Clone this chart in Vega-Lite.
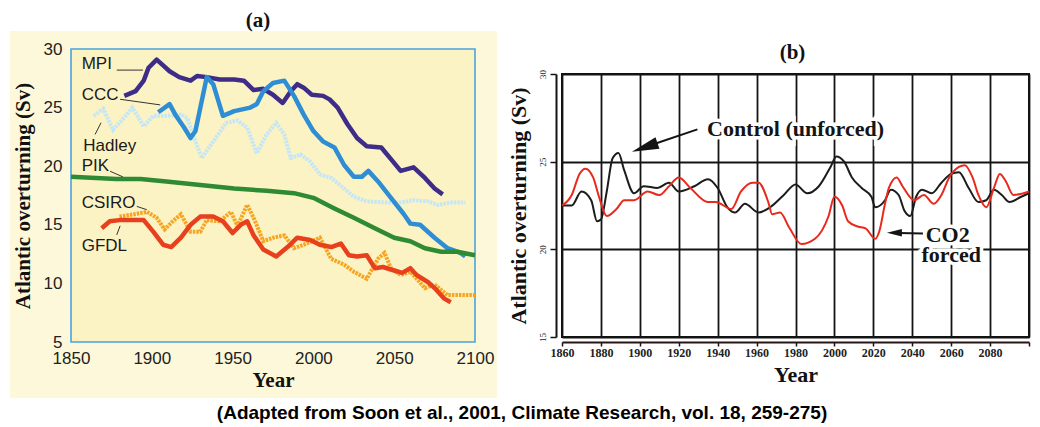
{
  "$schema": "https://vega.github.io/schema/vega-lite/v6.json",
  "background": "white",
  "padding": {"left": 10, "top": 9, "right": 0, "bottom": 0},
  "spacing": 8,
  "resolve": {"scale": {"color": "independent"}},
  "title": {
    "text": "(Adapted from Soon et al., 2001, Climate Research, vol. 18, 259-275)",
    "orient": "bottom",
    "anchor": "middle",
    "font": "Liberation Sans",
    "fontSize": 19,
    "fontWeight": "bold",
    "color": "#000000",
    "offset": 6
  },
  "config": {"view": {"stroke": null}},
  "datasets": {
    "modelsA": [
      {"model": "MPI", "year": 1883, "sv": 26.0}, {"model": "MPI", "year": 1890, "sv": 26.4}, {"model": "MPI", "year": 1895, "sv": 27.3}, {"model": "MPI", "year": 1898, "sv": 28.4}, {"model": "MPI", "year": 1903, "sv": 29.1}, {"model": "MPI", "year": 1907, "sv": 28.6}, {"model": "MPI", "year": 1911, "sv": 28.1}, {"model": "MPI", "year": 1917, "sv": 27.6}, {"model": "MPI", "year": 1924, "sv": 27.3}, {"model": "MPI", "year": 1928, "sv": 27.7}, {"model": "MPI", "year": 1934, "sv": 27.6}, {"model": "MPI", "year": 1942, "sv": 27.4}, {"model": "MPI", "year": 1951, "sv": 27.4}, {"model": "MPI", "year": 1957, "sv": 27.3}, {"model": "MPI", "year": 1963, "sv": 26.5}, {"model": "MPI", "year": 1969, "sv": 26.6}, {"model": "MPI", "year": 1975, "sv": 26.1}, {"model": "MPI", "year": 1981, "sv": 25.4}, {"model": "MPI", "year": 1986, "sv": 26.4}, {"model": "MPI", "year": 1990, "sv": 27.0}, {"model": "MPI", "year": 1994, "sv": 26.7}, {"model": "MPI", "year": 1999, "sv": 26.1}, {"model": "MPI", "year": 2006, "sv": 26.0}, {"model": "MPI", "year": 2010, "sv": 25.7}, {"model": "MPI", "year": 2015, "sv": 25.0}, {"model": "MPI", "year": 2021, "sv": 23.6}, {"model": "MPI", "year": 2027, "sv": 22.4}, {"model": "MPI", "year": 2033, "sv": 21.7}, {"model": "MPI", "year": 2042, "sv": 21.6}, {"model": "MPI", "year": 2048, "sv": 20.6}, {"model": "MPI", "year": 2054, "sv": 19.6}, {"model": "MPI", "year": 2062, "sv": 19.9}, {"model": "MPI", "year": 2069, "sv": 19.0}, {"model": "MPI", "year": 2075, "sv": 18.1}, {"model": "MPI", "year": 2080, "sv": 17.6},
      {"model": "CCC", "year": 1904, "sv": 24.6}, {"model": "CCC", "year": 1911, "sv": 25.3}, {"model": "CCC", "year": 1915, "sv": 24.3}, {"model": "CCC", "year": 1920, "sv": 23.3}, {"model": "CCC", "year": 1924, "sv": 22.4}, {"model": "CCC", "year": 1927, "sv": 23.0}, {"model": "CCC", "year": 1934, "sv": 27.6}, {"model": "CCC", "year": 1938, "sv": 27.0}, {"model": "CCC", "year": 1944, "sv": 24.3}, {"model": "CCC", "year": 1951, "sv": 24.7}, {"model": "CCC", "year": 1961, "sv": 25.0}, {"model": "CCC", "year": 1965, "sv": 25.3}, {"model": "CCC", "year": 1969, "sv": 26.4}, {"model": "CCC", "year": 1975, "sv": 27.1}, {"model": "CCC", "year": 1982, "sv": 27.3}, {"model": "CCC", "year": 1988, "sv": 26.0}, {"model": "CCC", "year": 1994, "sv": 24.4}, {"model": "CCC", "year": 2000, "sv": 23.0}, {"model": "CCC", "year": 2006, "sv": 22.1}, {"model": "CCC", "year": 2013, "sv": 21.6}, {"model": "CCC", "year": 2019, "sv": 20.1}, {"model": "CCC", "year": 2025, "sv": 19.1}, {"model": "CCC", "year": 2030, "sv": 19.1}, {"model": "CCC", "year": 2034, "sv": 19.6}, {"model": "CCC", "year": 2040, "sv": 18.7}, {"model": "CCC", "year": 2048, "sv": 17.3}, {"model": "CCC", "year": 2056, "sv": 15.9}, {"model": "CCC", "year": 2060, "sv": 15.1}, {"model": "CCC", "year": 2066, "sv": 15.0}, {"model": "CCC", "year": 2075, "sv": 13.9}, {"model": "CCC", "year": 2083, "sv": 13.0}, {"model": "CCC", "year": 2091, "sv": 12.6}, {"model": "CCC", "year": 2094, "sv": 12.3},
      {"model": "Hadley", "year": 1864, "sv": 24.3}, {"model": "Hadley", "year": 1870, "sv": 24.9}, {"model": "Hadley", "year": 1876, "sv": 23.1}, {"model": "Hadley", "year": 1882, "sv": 24.0}, {"model": "Hadley", "year": 1888, "sv": 25.0}, {"model": "Hadley", "year": 1895, "sv": 23.4}, {"model": "Hadley", "year": 1901, "sv": 24.3}, {"model": "Hadley", "year": 1905, "sv": 24.3}, {"model": "Hadley", "year": 1911, "sv": 24.3}, {"model": "Hadley", "year": 1918, "sv": 24.4}, {"model": "Hadley", "year": 1922, "sv": 24.1}, {"model": "Hadley", "year": 1927, "sv": 22.1}, {"model": "Hadley", "year": 1931, "sv": 20.7}, {"model": "Hadley", "year": 1938, "sv": 22.1}, {"model": "Hadley", "year": 1946, "sv": 23.7}, {"model": "Hadley", "year": 1953, "sv": 23.9}, {"model": "Hadley", "year": 1959, "sv": 23.3}, {"model": "Hadley", "year": 1965, "sv": 21.1}, {"model": "Hadley", "year": 1971, "sv": 22.7}, {"model": "Hadley", "year": 1977, "sv": 23.7}, {"model": "Hadley", "year": 1982, "sv": 22.7}, {"model": "Hadley", "year": 1986, "sv": 20.7}, {"model": "Hadley", "year": 1992, "sv": 21.0}, {"model": "Hadley", "year": 1998, "sv": 20.4}, {"model": "Hadley", "year": 2004, "sv": 19.3}, {"model": "Hadley", "year": 2011, "sv": 19.0}, {"model": "Hadley", "year": 2019, "sv": 18.1}, {"model": "Hadley", "year": 2025, "sv": 17.4}, {"model": "Hadley", "year": 2033, "sv": 17.0}, {"model": "Hadley", "year": 2044, "sv": 16.9}, {"model": "Hadley", "year": 2054, "sv": 16.9}, {"model": "Hadley", "year": 2062, "sv": 17.1}, {"model": "Hadley", "year": 2071, "sv": 17.0}, {"model": "Hadley", "year": 2077, "sv": 16.7}, {"model": "Hadley", "year": 2085, "sv": 16.9}, {"model": "Hadley", "year": 2094, "sv": 16.9},
      {"model": "PIK", "year": 1850, "sv": 19.1}, {"model": "PIK", "year": 1878, "sv": 18.9}, {"model": "PIK", "year": 1893, "sv": 18.9}, {"model": "PIK", "year": 1909, "sv": 18.7}, {"model": "PIK", "year": 1930, "sv": 18.4}, {"model": "PIK", "year": 1951, "sv": 18.1}, {"model": "PIK", "year": 1971, "sv": 17.9}, {"model": "PIK", "year": 1988, "sv": 17.7}, {"model": "PIK", "year": 2000, "sv": 17.3}, {"model": "PIK", "year": 2013, "sv": 16.4}, {"model": "PIK", "year": 2025, "sv": 15.6}, {"model": "PIK", "year": 2038, "sv": 14.7}, {"model": "PIK", "year": 2050, "sv": 13.9}, {"model": "PIK", "year": 2060, "sv": 13.6}, {"model": "PIK", "year": 2069, "sv": 13.0}, {"model": "PIK", "year": 2079, "sv": 12.7}, {"model": "PIK", "year": 2089, "sv": 12.7}, {"model": "PIK", "year": 2100, "sv": 12.4},
      {"model": "CSIRO", "year": 1880, "sv": 15.7}, {"model": "CSIRO", "year": 1889, "sv": 15.9}, {"model": "CSIRO", "year": 1897, "sv": 16.1}, {"model": "CSIRO", "year": 1903, "sv": 15.6}, {"model": "CSIRO", "year": 1908, "sv": 14.6}, {"model": "CSIRO", "year": 1913, "sv": 15.3}, {"model": "CSIRO", "year": 1918, "sv": 15.9}, {"model": "CSIRO", "year": 1924, "sv": 14.4}, {"model": "CSIRO", "year": 1930, "sv": 14.4}, {"model": "CSIRO", "year": 1934, "sv": 15.4}, {"model": "CSIRO", "year": 1942, "sv": 15.3}, {"model": "CSIRO", "year": 1949, "sv": 16.1}, {"model": "CSIRO", "year": 1953, "sv": 14.9}, {"model": "CSIRO", "year": 1959, "sv": 16.7}, {"model": "CSIRO", "year": 1963, "sv": 15.6}, {"model": "CSIRO", "year": 1969, "sv": 13.6}, {"model": "CSIRO", "year": 1975, "sv": 13.9}, {"model": "CSIRO", "year": 1982, "sv": 14.1}, {"model": "CSIRO", "year": 1988, "sv": 13.0}, {"model": "CSIRO", "year": 1994, "sv": 13.3}, {"model": "CSIRO", "year": 2004, "sv": 13.9}, {"model": "CSIRO", "year": 2011, "sv": 12.1}, {"model": "CSIRO", "year": 2019, "sv": 11.6}, {"model": "CSIRO", "year": 2025, "sv": 11.0}, {"model": "CSIRO", "year": 2033, "sv": 10.4}, {"model": "CSIRO", "year": 2040, "sv": 12.1}, {"model": "CSIRO", "year": 2044, "sv": 12.6}, {"model": "CSIRO", "year": 2048, "sv": 11.3}, {"model": "CSIRO", "year": 2054, "sv": 10.7}, {"model": "CSIRO", "year": 2060, "sv": 11.0}, {"model": "CSIRO", "year": 2069, "sv": 9.6}, {"model": "CSIRO", "year": 2075, "sv": 9.9}, {"model": "CSIRO", "year": 2083, "sv": 9.0}, {"model": "CSIRO", "year": 2091, "sv": 9.0}, {"model": "CSIRO", "year": 2100, "sv": 9.0},
      {"model": "GFDL", "year": 1869, "sv": 14.7}, {"model": "GFDL", "year": 1874, "sv": 15.3}, {"model": "GFDL", "year": 1880, "sv": 15.4}, {"model": "GFDL", "year": 1889, "sv": 15.4}, {"model": "GFDL", "year": 1895, "sv": 15.4}, {"model": "GFDL", "year": 1901, "sv": 14.4}, {"model": "GFDL", "year": 1907, "sv": 13.3}, {"model": "GFDL", "year": 1912, "sv": 13.1}, {"model": "GFDL", "year": 1918, "sv": 13.9}, {"model": "GFDL", "year": 1924, "sv": 15.0}, {"model": "GFDL", "year": 1930, "sv": 15.7}, {"model": "GFDL", "year": 1938, "sv": 15.7}, {"model": "GFDL", "year": 1944, "sv": 15.3}, {"model": "GFDL", "year": 1950, "sv": 14.3}, {"model": "GFDL", "year": 1955, "sv": 15.0}, {"model": "GFDL", "year": 1959, "sv": 15.3}, {"model": "GFDL", "year": 1963, "sv": 14.1}, {"model": "GFDL", "year": 1969, "sv": 12.9}, {"model": "GFDL", "year": 1977, "sv": 12.3}, {"model": "GFDL", "year": 1984, "sv": 13.1}, {"model": "GFDL", "year": 1990, "sv": 13.9}, {"model": "GFDL", "year": 1998, "sv": 13.7}, {"model": "GFDL", "year": 2004, "sv": 13.3}, {"model": "GFDL", "year": 2011, "sv": 13.1}, {"model": "GFDL", "year": 2017, "sv": 13.4}, {"model": "GFDL", "year": 2022, "sv": 12.4}, {"model": "GFDL", "year": 2027, "sv": 12.3}, {"model": "GFDL", "year": 2033, "sv": 12.4}, {"model": "GFDL", "year": 2038, "sv": 11.3}, {"model": "GFDL", "year": 2043, "sv": 11.4}, {"model": "GFDL", "year": 2050, "sv": 11.1}, {"model": "GFDL", "year": 2055, "sv": 10.9}, {"model": "GFDL", "year": 2060, "sv": 11.3}, {"model": "GFDL", "year": 2064, "sv": 10.7}, {"model": "GFDL", "year": 2071, "sv": 10.1}, {"model": "GFDL", "year": 2075, "sv": 9.6}, {"model": "GFDL", "year": 2081, "sv": 8.7}, {"model": "GFDL", "year": 2085, "sv": 8.4}
    ],
    "labelsA": [
      {"label": "MPI", "year": 1856.6, "sv": 28.7},
      {"label": "CCC", "year": 1856.6, "sv": 26.06},
      {"label": "Hadley", "year": 1857.6, "sv": 21.71},
      {"label": "PIK", "year": 1856.6, "sv": 20.0},
      {"label": "CSIRO", "year": 1856.6, "sv": 16.86},
      {"label": "GFDL", "year": 1856.6, "sv": 13.2}
    ],
    "leadersA": [
      {"label": "MPI", "year": 1878.3, "sv": 28.2, "year2": 1894.5, "sv2": 28.2},
      {"label": "CCC", "year": 1880.4, "sv": 25.71, "year2": 1905.2, "sv2": 25.23},
      {"label": "Hadley", "year": 1864.9, "sv": 22.71, "year2": 1868.6, "sv2": 23.71},
      {"label": "PIK", "year": 1874.2, "sv": 19.57, "year2": 1882.1, "sv2": 19.09},
      {"label": "CSIRO", "year": 1890.7, "sv": 16.57, "year2": 1896.9, "sv2": 16.29},
      {"label": "GFDL", "year": 1878.3, "sv": 14.14, "year2": 1880.4, "sv2": 14.91}
    ],
    "runsB": [
      {"run": "Control", "year": 1860, "sv": 22.5}, {"run": "Control", "year": 1865, "sv": 22.5}, {"run": "Control", "year": 1870, "sv": 23.3}, {"run": "Control", "year": 1875, "sv": 22.8}, {"run": "Control", "year": 1878, "sv": 21.6}, {"run": "Control", "year": 1880, "sv": 21.7}, {"run": "Control", "year": 1883, "sv": 23.3}, {"run": "Control", "year": 1886, "sv": 25.2}, {"run": "Control", "year": 1889, "sv": 25.5}, {"run": "Control", "year": 1892, "sv": 24.5}, {"run": "Control", "year": 1897, "sv": 23.2}, {"run": "Control", "year": 1902, "sv": 23.6}, {"run": "Control", "year": 1909, "sv": 23.5}, {"run": "Control", "year": 1915, "sv": 23.8}, {"run": "Control", "year": 1920, "sv": 23.3}, {"run": "Control", "year": 1928, "sv": 23.6}, {"run": "Control", "year": 1935, "sv": 24.0}, {"run": "Control", "year": 1940, "sv": 23.5}, {"run": "Control", "year": 1945, "sv": 22.4}, {"run": "Control", "year": 1949, "sv": 22.1}, {"run": "Control", "year": 1954, "sv": 22.6}, {"run": "Control", "year": 1961, "sv": 22.1}, {"run": "Control", "year": 1967, "sv": 22.4}, {"run": "Control", "year": 1974, "sv": 23.1}, {"run": "Control", "year": 1980, "sv": 23.7}, {"run": "Control", "year": 1986, "sv": 23.2}, {"run": "Control", "year": 1992, "sv": 23.6}, {"run": "Control", "year": 1998, "sv": 24.7}, {"run": "Control", "year": 2001, "sv": 25.3}, {"run": "Control", "year": 2005, "sv": 25.0}, {"run": "Control", "year": 2009, "sv": 24.1}, {"run": "Control", "year": 2014, "sv": 23.5}, {"run": "Control", "year": 2019, "sv": 23.0}, {"run": "Control", "year": 2021, "sv": 22.4}, {"run": "Control", "year": 2026, "sv": 22.8}, {"run": "Control", "year": 2029, "sv": 23.4}, {"run": "Control", "year": 2033, "sv": 23.1}, {"run": "Control", "year": 2036, "sv": 22.2}, {"run": "Control", "year": 2039, "sv": 21.9}, {"run": "Control", "year": 2042, "sv": 23.0}, {"run": "Control", "year": 2045, "sv": 23.4}, {"run": "Control", "year": 2050, "sv": 23.2}, {"run": "Control", "year": 2055, "sv": 23.8}, {"run": "Control", "year": 2060, "sv": 24.3}, {"run": "Control", "year": 2064, "sv": 24.4}, {"run": "Control", "year": 2069, "sv": 23.5}, {"run": "Control", "year": 2074, "sv": 22.7}, {"run": "Control", "year": 2078, "sv": 22.8}, {"run": "Control", "year": 2082, "sv": 23.4}, {"run": "Control", "year": 2086, "sv": 23.1}, {"run": "Control", "year": 2090, "sv": 22.7}, {"run": "Control", "year": 2096, "sv": 23.0}, {"run": "Control", "year": 2100, "sv": 23.2},
      {"run": "CO2", "year": 1860, "sv": 22.5}, {"run": "CO2", "year": 1865, "sv": 23.1}, {"run": "CO2", "year": 1869, "sv": 24.3}, {"run": "CO2", "year": 1872, "sv": 24.6}, {"run": "CO2", "year": 1876, "sv": 24.1}, {"run": "CO2", "year": 1879, "sv": 23.0}, {"run": "CO2", "year": 1883, "sv": 21.9}, {"run": "CO2", "year": 1888, "sv": 22.3}, {"run": "CO2", "year": 1892, "sv": 22.8}, {"run": "CO2", "year": 1897, "sv": 22.8}, {"run": "CO2", "year": 1904, "sv": 23.3}, {"run": "CO2", "year": 1910, "sv": 23.1}, {"run": "CO2", "year": 1915, "sv": 23.6}, {"run": "CO2", "year": 1920, "sv": 24.1}, {"run": "CO2", "year": 1926, "sv": 23.5}, {"run": "CO2", "year": 1935, "sv": 22.7}, {"run": "CO2", "year": 1939, "sv": 22.7}, {"run": "CO2", "year": 1947, "sv": 22.3}, {"run": "CO2", "year": 1952, "sv": 23.3}, {"run": "CO2", "year": 1958, "sv": 23.8}, {"run": "CO2", "year": 1961, "sv": 23.8}, {"run": "CO2", "year": 1966, "sv": 22.7}, {"run": "CO2", "year": 1968, "sv": 22.0}, {"run": "CO2", "year": 1972, "sv": 22.1}, {"run": "CO2", "year": 1977, "sv": 21.2}, {"run": "CO2", "year": 1983, "sv": 20.3}, {"run": "CO2", "year": 1990, "sv": 20.6}, {"run": "CO2", "year": 1997, "sv": 21.9}, {"run": "CO2", "year": 2000, "sv": 23.0}, {"run": "CO2", "year": 2004, "sv": 22.5}, {"run": "CO2", "year": 2007, "sv": 21.6}, {"run": "CO2", "year": 2012, "sv": 21.3}, {"run": "CO2", "year": 2016, "sv": 21.2}, {"run": "CO2", "year": 2021, "sv": 20.6}, {"run": "CO2", "year": 2023, "sv": 21.0}, {"run": "CO2", "year": 2026, "sv": 22.6}, {"run": "CO2", "year": 2028, "sv": 23.5}, {"run": "CO2", "year": 2032, "sv": 24.1}, {"run": "CO2", "year": 2035, "sv": 23.6}, {"run": "CO2", "year": 2041, "sv": 22.8}, {"run": "CO2", "year": 2046, "sv": 23.1}, {"run": "CO2", "year": 2051, "sv": 22.6}, {"run": "CO2", "year": 2055, "sv": 23.1}, {"run": "CO2", "year": 2059, "sv": 24.1}, {"run": "CO2", "year": 2064, "sv": 24.7}, {"run": "CO2", "year": 2067, "sv": 24.8}, {"run": "CO2", "year": 2071, "sv": 24.1}, {"run": "CO2", "year": 2074, "sv": 23.1}, {"run": "CO2", "year": 2078, "sv": 22.4}, {"run": "CO2", "year": 2082, "sv": 23.5}, {"run": "CO2", "year": 2085, "sv": 24.3}, {"run": "CO2", "year": 2088, "sv": 23.9}, {"run": "CO2", "year": 2092, "sv": 23.1}, {"run": "CO2", "year": 2100, "sv": 23.3}
    ],
    "notesB": [
      {"label": "Control (unforced)", "year": 1980, "sv": 26.84},
      {"label": "CO2", "year": 2058.2, "sv": 20.84},
      {"label": "forced", "year": 2060, "sv": 19.68}
    ],
    "shaftsB": [
      {"arrow": "Control", "year": 1929.6, "sv": 26.84, "year2": 1908.5, "sv2": 26.05},
      {"arrow": "CO2", "year": 2045.5, "sv": 20.9, "year2": 2033, "sv2": 20.93}
    ],
    "headControl": [{"year": 1902.5, "sv": 25.82}],
    "headCO2": [{"year": 2030.8, "sv": 20.95}]
  },
  "hconcat": [
    {
      "width": 404,
      "height": 268,
      "title": {"text": "(a)", "font": "Liberation Serif", "fontSize": 21, "fontWeight": "bold", "color": "#111111", "frame": "group", "anchor": "middle", "offset": 0, "dx": -15},
      "layer": [
        {
          "data": {"values": [{}]},
          "mark": {"type": "rect", "clip": false, "fill": "#fdf8d9"},
          "encoding": {
            "x": {"datum": 1812.3, "type": "quantitative"},
            "x2": {"datum": 2113.6},
            "y": {"datum": 31.54, "type": "quantitative"},
            "y2": {"datum": 0.22}
          }
        },
        {
          "data": {"values": [{}]},
          "mark": {"type": "rect", "clip": false, "fill": "#fcf3c4", "stroke": "#4aa3dd", "strokeWidth": 1.6},
          "encoding": {
            "x": {"datum": 1850, "type": "quantitative"},
            "x2": {"datum": 2100},
            "y": {"datum": 30, "type": "quantitative"},
            "y2": {"datum": 5}
          }
        },
        {
          "data": {"name": "modelsA"},
          "transform": [{"filter": "datum.model == 'Hadley' || datum.model == 'CSIRO'"}],
          "mark": {"type": "line", "strokeWidth": 4, "strokeDash": [2.5, 1], "strokeCap": "butt"},
          "encoding": {
            "x": {"field": "year", "type": "quantitative"},
            "y": {"field": "sv", "type": "quantitative"},
            "detail": {"field": "model"},
            "color": {"field": "model", "type": "nominal", "legend": null,
              "scale": {"domain": ["MPI", "CCC", "Hadley", "PIK", "CSIRO", "GFDL"], "range": ["#3d2c88", "#2e8dd3", "#c4e6f6", "#2f8a34", "#f6a522", "#e8401c"]}}
          }
        },
        {
          "data": {"name": "modelsA"},
          "transform": [{"filter": "datum.model != 'Hadley' && datum.model != 'CSIRO'"}],
          "mark": {"type": "line", "strokeWidth": 4.5, "strokeJoin": "round"},
          "encoding": {
            "x": {"field": "year", "type": "quantitative",
              "scale": {"domain": [1850, 2100], "nice": false, "zero": false},
              "axis": {"values": [1850, 1900, 1950, 2000, 2050, 2100], "tickCount": 10, "format": "d", "title": "Year", "grid": false, "domain": false, "ticks": false, "tickSize": 0, "labelPadding": 8, "labelFont": "Liberation Sans", "labelFontSize": 17, "labelColor": "#222222", "labelFlush": false, "labelOverlap": false, "titleFont": "Liberation Serif", "titleFontSize": 21, "titleFontWeight": "bold", "titleColor": "#111111", "titlePadding": 3, "zindex": 1}},
            "y": {"field": "sv", "type": "quantitative",
              "scale": {"domain": [5, 30], "nice": false, "zero": false, "range": [268, -25]},
              "axis": {"values": [5, 10, 15, 20, 25, 30], "tickCount": 10, "title": "Atlantic overturning (Sv)", "grid": false, "domain": false, "ticks": false, "tickSize": 0, "labelPadding": 9, "labelFont": "Liberation Sans", "labelFontSize": 17, "labelColor": "#222222", "labelFlush": false, "labelOverlap": false, "titleFont": "Liberation Serif", "titleFontSize": 21, "titleFontWeight": "bold", "titleColor": "#111111", "titlePadding": 10, "zindex": 1}},
            "detail": {"field": "model"},
            "color": {"field": "model", "type": "nominal", "legend": null,
              "scale": {"domain": ["MPI", "CCC", "Hadley", "PIK", "CSIRO", "GFDL"], "range": ["#3d2c88", "#2e8dd3", "#c4e6f6", "#2f8a34", "#f6a522", "#e8401c"]}}
          }
        },
        {
          "data": {"name": "leadersA"},
          "mark": {"type": "rule", "color": "#333333", "strokeWidth": 1},
          "encoding": {
            "x": {"field": "year", "type": "quantitative"},
            "x2": {"field": "year2"},
            "y": {"field": "sv", "type": "quantitative"},
            "y2": {"field": "sv2"}
          }
        },
        {
          "data": {"name": "labelsA"},
          "mark": {"type": "text", "align": "left", "baseline": "middle", "font": "Liberation Sans", "fontSize": 17, "color": "#1a1a1a"},
          "encoding": {
            "x": {"field": "year", "type": "quantitative"},
            "y": {"field": "sv", "type": "quantitative"},
            "text": {"field": "label"}
          }
        }
      ]
    },
    {
      "width": 467,
      "height": 263,
      "view": {"stroke": "#111111", "strokeWidth": 2},
      "title": {"text": "(b)", "font": "Liberation Serif", "fontSize": 21, "fontWeight": "bold", "color": "#111111", "frame": "group", "anchor": "middle", "offset": 7, "dx": -3},
      "layer": [
        {
          "data": {"name": "runsB"},
          "mark": {"type": "line", "strokeWidth": 2, "interpolate": "monotone"},
          "encoding": {
            "x": {"field": "year", "type": "quantitative",
              "scale": {"domain": [1860, 2100], "nice": false, "zero": false},
              "axis": {"values": [1860, 1880, 1900, 1920, 1940, 1960, 1980, 2000, 2020, 2040, 2060, 2080, 2100], "tickCount": 30, "format": "d", "labelExpr": "datum.value >= 2100 ? '' : datum.label", "offset": 5, "grid": true, "gridColor": "#141414", "gridWidth": 1.8, "gridOpacity": 1, "domainColor": "#2a1515", "domainWidth": 2, "ticks": true, "tickColor": "#141414", "tickSize": 4, "tickWidth": 1.5, "labelFont": "Liberation Serif", "labelFontWeight": "bold", "labelFontSize": 12, "labelColor": "#222222", "labelPadding": 1, "labelFlush": false, "labelOverlap": false, "title": "Year", "titleFont": "Liberation Serif", "titleFontSize": 22, "titleFontWeight": "bold", "titleColor": "#111111", "titlePadding": 6}},
            "y": {"field": "sv", "type": "quantitative",
              "scale": {"domain": [15, 30], "nice": false, "zero": false},
              "axis": {"values": [15, 20, 25, 30], "tickCount": 10, "offset": 6, "grid": true, "gridColor": "#141414", "gridWidth": 1.8, "gridOpacity": 1, "domainColor": "#141414", "domainWidth": 2, "ticks": true, "tickColor": "#141414", "tickSize": 6, "tickWidth": 1.5, "labelAngle": 270, "labelFont": "Liberation Serif", "labelFontSize": 9, "labelColor": "#222222", "labelPadding": 3, "labelFlush": false, "labelOverlap": false, "title": "Atlantic overturning (Sv)", "titleFont": "Liberation Serif", "titleFontSize": 22, "titleFontWeight": "bold", "titleColor": "#111111", "titlePadding": 8}},
            "color": {"field": "run", "type": "nominal", "legend": null, "sort": ["Control", "CO2"],
              "scale": {"domain": ["Control", "CO2"], "range": ["#1c1c1c", "#e8291c"]}}
          }
        },
        {
          "data": {"name": "notesB"},
          "mark": {"type": "text", "align": "center", "baseline": "middle", "font": "Liberation Serif", "fontSize": 22, "fontWeight": "bold", "letterSpacing": 1.5, "stroke": "white", "strokeWidth": 7, "fill": "white"},
          "encoding": {
            "x": {"field": "year", "type": "quantitative"},
            "y": {"field": "sv", "type": "quantitative"},
            "text": {"field": "label"}
          }
        },
        {
          "data": {"name": "notesB"},
          "mark": {"type": "text", "align": "center", "baseline": "middle", "font": "Liberation Serif", "fontSize": 22, "fontWeight": "bold", "letterSpacing": 1.5, "color": "#141414"},
          "encoding": {
            "x": {"field": "year", "type": "quantitative"},
            "y": {"field": "sv", "type": "quantitative"},
            "text": {"field": "label"}
          }
        },
        {
          "data": {"name": "shaftsB"},
          "mark": {"type": "rule", "color": "#141414", "strokeWidth": 2},
          "encoding": {
            "x": {"field": "year", "type": "quantitative"},
            "x2": {"field": "year2"},
            "y": {"field": "sv", "type": "quantitative"},
            "y2": {"field": "sv2"}
          }
        },
        {
          "data": {"name": "headControl"},
          "mark": {"type": "point", "shape": "M0,-1L0.45,1L-0.45,1Z", "filled": true, "color": "#141414", "opacity": 1, "size": 729, "angle": 251},
          "encoding": {
            "x": {"field": "year", "type": "quantitative"},
            "y": {"field": "sv", "type": "quantitative"}
          }
        },
        {
          "data": {"name": "headCO2"},
          "mark": {"type": "point", "shape": "M0,-1L0.5,1L-0.5,1Z", "filled": true, "color": "#141414", "opacity": 1, "size": 225, "angle": 270},
          "encoding": {
            "x": {"field": "year", "type": "quantitative"},
            "y": {"field": "sv", "type": "quantitative"}
          }
        }
      ]
    }
  ]
}
